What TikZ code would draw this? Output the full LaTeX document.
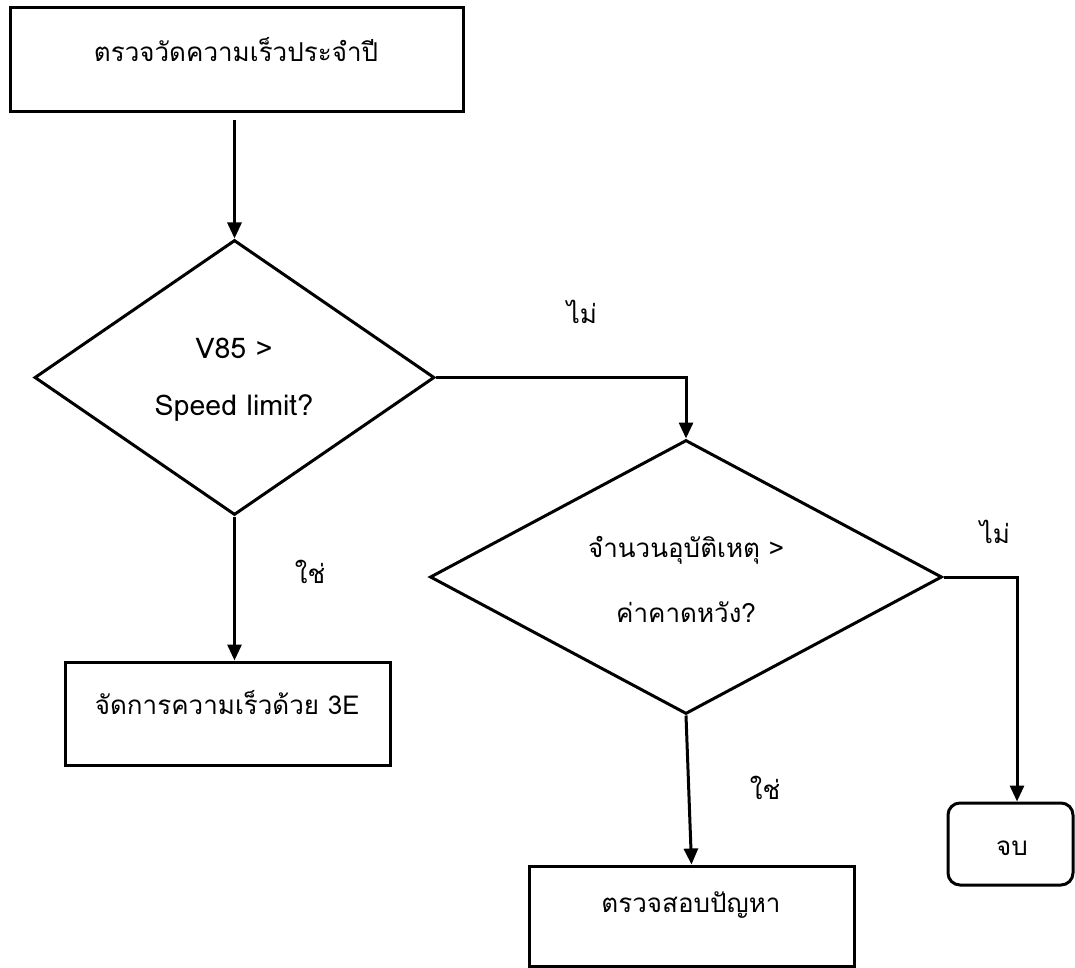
\documentclass[tikz,border=0pt]{standalone}
\usepackage{fontspec}
\setmainfont[Script=Thai]{Loma}
\usetikzlibrary{shapes.geometric,arrows.meta}
\begin{document}
\begin{tikzpicture}[x=1pt,y=-1pt,
  lw/.style={line width=3pt},
  box/.style={draw,lw,rectangle,inner sep=0pt},
  dia/.style={draw,lw,diamond,inner sep=0pt},
  txt/.style={inner sep=0pt,font=\fontsize{26}{30}\selectfont},
  lat/.style={inner sep=0pt,font=\fontsize{28.5}{32}\selectfont},
  arr/.style={lw,-{Triangle[length=16pt,width=14pt]}}]
\useasboundingbox (0,0) rectangle (1075,968);
% shapes
\node[box,minimum width=453pt,minimum height=104pt] (top) at (236.5,60) {};
\node[dia,minimum width=400pt,minimum height=275pt] (d1) at (234.5,377.5) {};
\node[box,minimum width=325pt,minimum height=103pt] (b3e) at (227.5,713.5) {};
\node[dia,minimum width=512pt,minimum height=274pt] (d2) at (686,577) {};
\node[box,minimum width=325pt,minimum height=100pt] (chk) at (691.5,916) {};
\node[box,rounded corners=12pt,minimum width=125pt,minimum height=82pt] (endb) at (1010.5,844) {};
% texts
\node[txt] (ttop) at (236,50) {ตรวจวัดความเร็วประจำปี};
\node[lat] (t1a) at (234,348) {V85 >};
\node[lat] (t1b) at (234,408) {Speed limit?};
\node[txt] (t2a) at (686,550) {จำนวนอุบัติเหตุ >};
\node[txt] (t2b) at (686,612) {ค่าคาดหวัง?};
\node[txt] (t3e) at (227,703) {จัดการความเร็วด้วย 3E};
\node[txt] (tchk) at (691,905) {ตรวจสอบปัญหา};
\node[txt] (tend) at (1012,848) {จบ};
% labels
\node[txt] (lno1) at (582,312) {ไม่};
\node[txt] (lyes1) at (310,572) {ใช่};
\node[txt] (lno2) at (995,532) {ไม่};
\node[txt] (lyes2) at (765,788) {ใช่};
% connectors
\draw[arr,shorten <=7pt] (top.south -| d1.north) -- (d1.north);
\draw[arr] (d1.east) -| (d2.north);
\draw[arr] (d2.east) -| ([xshift=6.5pt]endb.north);
\draw[arr] (d1.south) -- (d1.south |- b3e.north);
\draw[arr] (d2.south) -- (chk.north);
\end{tikzpicture}
\end{document}
